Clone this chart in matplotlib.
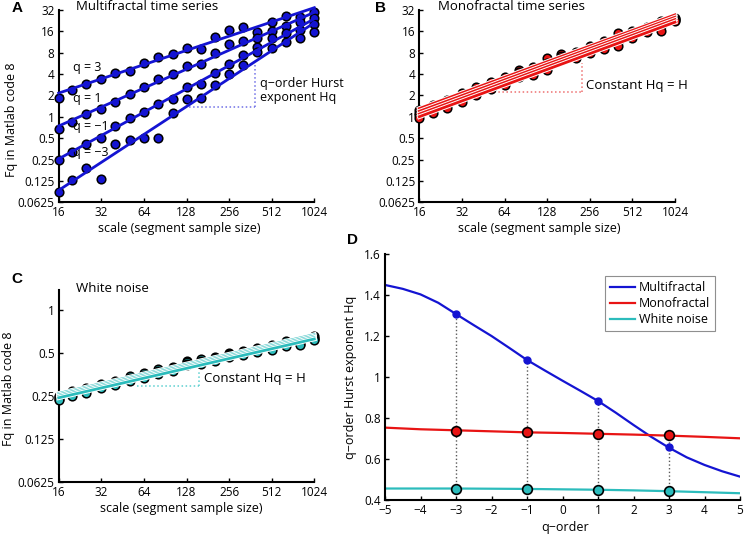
import numpy as np
import matplotlib.pyplot as plt
import matplotlib.patheffects as pe

plt.rcParams['font.family'] = ['Open Sans', 'DejaVu Sans']
plt.rcParams['axes.unicode_minus'] = True

# scales (segment sample sizes) and q-orders used in panels A-C
scales = [16, 20, 25, 32, 40, 51, 64, 81, 102, 128, 161, 203, 256, 323, 406, 512, 645, 813, 1024]
q_orders = [3, 1, -1, -3]

# A: multifractal Fq
multi_q3 = [1.83, 2.39, 2.9, 3.41, 4.19, 4.47, 5.7, 7.0, 7.7, 9.2, 8.9, 13.5, 16.7, 18.6, 15.8, 21.4, 26.6, 25.8, 30.3]
multi_q1 = [0.67, 0.84, 1.09, 1.29, 1.64, 2.08, 2.66, 3.41, 3.97, 5.2, 5.5, 7.85, 10.5, 11.7, 12.8, 16.2, 19.2, 21.4, 24.9]
multi_qm1 = [0.247, 0.32, 0.41, 0.5, 0.75, 0.95, 1.18, 1.5, 1.79, 2.66, 2.9, 4.19, 5.5, 7.4, 9.7, 12.8, 15.0, 16.7, 20.1]
multi_qm3 = [0.088, 0.129, 0.192, 0.133, 0.41, 0.47, 0.5, 0.51, 1.14, 1.77, 1.86, 2.8, 3.97, 5.4, 8.3, 9.2, 11.2, 12.8, 15.9]

# B: monofractal Fq
mono_q3 = [1.25, 1.45, 1.70, 2.15, 2.60, 3.05, 3.60, 4.60, 5.10, 6.80, 7.60, 8.30, 10.1, 11.6, 15.2, 16.0, 18.6, 22.6, 24.5]
mono_q1 = [1.15, 1.35, 1.58, 1.95, 2.40, 2.85, 3.30, 4.25, 4.60, 5.80, 7.20, 7.80, 9.30, 10.6, 13.0, 15.0, 17.5, 21.0, 23.8]
mono_qm1 = [1.06, 1.24, 1.46, 1.78, 2.20, 2.63, 3.02, 3.95, 4.20, 5.10, 6.80, 7.30, 8.60, 9.70, 11.4, 14.0, 16.5, 19.0, 23.0]
mono_qm3 = [0.97, 1.14, 1.35, 1.62, 2.00, 2.43, 2.78, 3.65, 3.85, 4.56, 6.45, 6.85, 8.00, 8.90, 10.1, 13.1, 15.6, 16.0, 22.3]

# C: white noise Fq
noise_q3 = [0.249, 0.269, 0.283, 0.305, 0.319, 0.343, 0.359, 0.384, 0.397, 0.441, 0.451, 0.470, 0.503, 0.518, 0.545, 0.564, 0.603, 0.609, 0.655]
noise_q1 = [0.244, 0.263, 0.276, 0.299, 0.312, 0.335, 0.351, 0.375, 0.389, 0.431, 0.441, 0.459, 0.492, 0.506, 0.533, 0.552, 0.590, 0.595, 0.641]
noise_qm1 = [0.238, 0.257, 0.270, 0.291, 0.304, 0.327, 0.343, 0.367, 0.379, 0.421, 0.431, 0.449, 0.480, 0.494, 0.521, 0.538, 0.576, 0.581, 0.625]
noise_qm3 = [0.233, 0.251, 0.263, 0.285, 0.297, 0.319, 0.335, 0.358, 0.371, 0.411, 0.421, 0.438, 0.469, 0.483, 0.509, 0.526, 0.563, 0.567, 0.611]

# D: Hq curves
q_fine = [-5, -4.5, -4, -3.5, -3, -2.5, -2, -1.5, -1, -0.5, 0, 0.5, 1, 1.5, 2, 2.5, 3, 3.5, 4, 4.5, 5]
hq_multi = [1.449, 1.430, 1.403, 1.362, 1.307, 1.253, 1.200, 1.142, 1.083, 1.032, 0.982, 0.933,
            0.883, 0.826, 0.766, 0.708, 0.655, 0.608, 0.571, 0.540, 0.514]
q_int = [-5, -4, -3, -2, -1, 0, 1, 2, 3, 4, 5]
hq_mono = [0.753, 0.745, 0.740, 0.735, 0.730, 0.727, 0.723, 0.719, 0.714, 0.708, 0.701]
hq_noise = [0.456, 0.456, 0.456, 0.455, 0.454, 0.452, 0.450, 0.447, 0.443, 0.438, 0.433]
q_pts = [-3, -1, 1, 3]
hq_multi_pts = [1.307, 1.083, 0.883, 0.657]
hq_mono_pts = [0.738, 0.730, 0.724, 0.715]
hq_noise_pts = [0.452, 0.452, 0.449, 0.444]

BLUE = '#1414d2'
RED = '#e81414'
CYAN = '#2cbcbc'

W, H = 745, 535
fig = plt.figure(figsize=(W / 100, H / 100), dpi=100)


def px_axes(left, right, top, bottom):
    return fig.add_axes([left / W, 1 - bottom / H, (right - left) / W, (bottom - top) / H])


def style(ax):
    for s in ['top', 'right']:
        ax.spines[s].set_visible(False)
    for s in ['left', 'bottom']:
        ax.spines[s].set_linewidth(1.5)
    ax.tick_params(direction='in', length=3, width=1, labelsize=8.5, pad=3)
    ax.tick_params(axis='x', pad=3)


def log_panel(ax, series, color, yticks, ylim, stroke=False):
    ax.set_xscale('log', base=2)
    ax.set_yscale('log', base=2)
    x = np.array(scales, dtype=float)
    for fq in series:
        ax.plot(x, fq, 'o', ms=6.2, mfc=color, mec='k', mew=1.1, clip_on=False, zorder=3)
    for fq in series:
        p = np.polyfit(np.log2(x), np.log2(fq), 1)
        xx = np.array([16, 1024], dtype=float)
        kw = {}
        if stroke:
            kw['path_effects'] = [pe.Stroke(linewidth=3.4, foreground='white'), pe.Normal()]
        ax.plot(xx, 2 ** np.polyval(p, np.log2(xx)), color=color, lw=2.0,
                clip_on=False, zorder=4, **kw)
    ax.set_xlim(16, 1024)
    ax.set_ylim(*ylim)
    xt = [16, 32, 64, 128, 256, 512, 1024]
    ax.set_xticks(xt)
    ax.set_xticklabels([str(v) for v in xt])
    ax.set_yticks(yticks)
    ax.set_yticklabels([('%g' % v) for v in yticks])
    ax.minorticks_off()
    style(ax)
    ax.set_xlabel('scale (segment sample size)', fontsize=9)
    ax.xaxis.set_label_coords(0.47, -0.105)


# ---- A
axA = px_axes(58.7, 314.3, 10, 202.3)
log_panel(axA, [multi_q3, multi_q1, multi_qm1, multi_qm3], BLUE,
          [0.0625, 0.125, 0.25, 0.5, 1, 2, 4, 8, 16, 32], (0.0625, 32))
axA.set_ylabel('Fq in Matlab code 8', fontsize=9)
axA.yaxis.set_label_coords(-0.16, 0.43)
axA.text(0.068, 1.016, 'Multifractal time series', transform=axA.transAxes, fontsize=9.5, va='center')
for lab, yy in zip(['q = 3', 'q = 1', 'q = \u22121', 'q = \u22123'], [4.9, 1.84, 0.74, 0.31]):
    axA.text(20.3, yy, lab, fontsize=9, va='center')
axA.plot([124.6, 391], [1.36, 1.36], ':', color='#6f6fe6', lw=1.1)
axA.plot([391, 391], [1.36, 5.7], ':', color='#6f6fe6', lw=1.1)
axA.text(424, 2.35, 'q\u2212order Hurst\nexponent Hq', fontsize=9, va='center', linespacing=1.15)

# ---- B
axB = px_axes(419.3, 675, 10, 202.3)
log_panel(axB, [mono_q3, mono_q1, mono_qm1, mono_qm3], RED,
          [0.0625, 0.125, 0.25, 0.5, 1, 2, 4, 8, 16, 32], (0.0625, 32), stroke=True)
axB.text(0.074, 1.016, 'Monofractal time series', transform=axB.transAxes, fontsize=9.5, va='center')
axB.plot([36.5, 224], [2.22, 2.22], ':', color='#ee7070', lw=1.1)
axB.plot([224, 224], [2.22, 5.7], ':', color='#ee7070', lw=1.1)
axB.text(240, 2.8, 'Constant Hq = H', fontsize=9.5, va='center')

# ---- C
axC = px_axes(58.7, 314.3, 290, 481.7)
log_panel(axC, [noise_q3, noise_q1, noise_qm1, noise_qm3], CYAN,
          [0.0625, 0.125, 0.25, 0.5, 1], (0.0625, 1.38), stroke=True)
axC.set_ylabel('Fq in Matlab code 8', fontsize=9)
axC.yaxis.set_label_coords(-0.172, 0.484)
axC.xaxis.set_label_coords(0.48, -0.105)
axC.text(0.068, 1.009, 'White noise', transform=axC.transAxes, fontsize=9.5, va='center')
axC.plot([56.9, 157.6], [0.294, 0.294], ':', color='#5cd0d0', lw=1.1)
axC.plot([157.6, 157.6], [0.294, 0.37], ':', color='#5cd0d0', lw=1.1)
axC.text(170, 0.329, 'Constant Hq = H', fontsize=9.5, va='center')

# ---- D
axD = px_axes(385, 740, 254, 500)
tops = np.maximum(hq_multi_pts, hq_mono_pts)
axD.vlines(q_pts, hq_noise_pts, tops, colors='0.35', linestyles=':', lw=1.0, zorder=1)
axD.plot(q_fine, hq_multi, color=BLUE, lw=1.6, label='Multifractal', zorder=2)
axD.plot(q_int, hq_mono, color=RED, lw=1.6, label='Monofractal', zorder=2)
axD.plot(q_int, hq_noise, color=CYAN, lw=1.6, label='White noise', zorder=2)
axD.plot(q_pts, hq_multi_pts, 'o', ms=5, mfc=BLUE, mec=BLUE, zorder=3)
axD.plot(q_pts, hq_mono_pts, 'o', ms=7, mfc=RED, mec='k', mew=1.2, zorder=3)
axD.plot(q_pts, hq_noise_pts, 'o', ms=7, mfc=CYAN, mec='k', mew=1.2, zorder=3)
axD.set_xlim(-5, 5)
axD.set_ylim(0.4, 1.6)
axD.set_xticks(range(-5, 6))
axD.set_yticks([0.4, 0.6, 0.8, 1.0, 1.2, 1.4, 1.6])
axD.set_yticklabels(['0.4', '0.6', '0.8', '1', '1.2', '1.4', '1.6'])
style(axD)
axD.set_xlabel('q\u2212order', fontsize=9)
axD.xaxis.set_label_coords(0.507, -0.085)
axD.set_ylabel('q\u2212order Hurst exponent Hq', fontsize=9)
axD.yaxis.set_label_coords(-0.08, 0.5)
leg = axD.legend(loc='upper right', bbox_to_anchor=(0.93, 0.91), borderaxespad=0,
                 fontsize=9, fancybox=False, handlelength=2.0, handletextpad=0.3,
                 labelspacing=0.25, borderpad=0.4)
leg.get_frame().set_edgecolor('0.45')
leg.get_frame().set_linewidth(0.8)

# panel letters
for letter, x, y in [('A', 17, 8), ('B', 381, 8), ('C', 17, 279), ('D', 353, 240)]:
    fig.text(x / W, 1 - y / H, letter, fontsize=11, fontweight='bold', ha='center', va='center',
             family=['Liberation Sans', 'DejaVu Sans'])

fig.savefig('out.png', dpi=100)
